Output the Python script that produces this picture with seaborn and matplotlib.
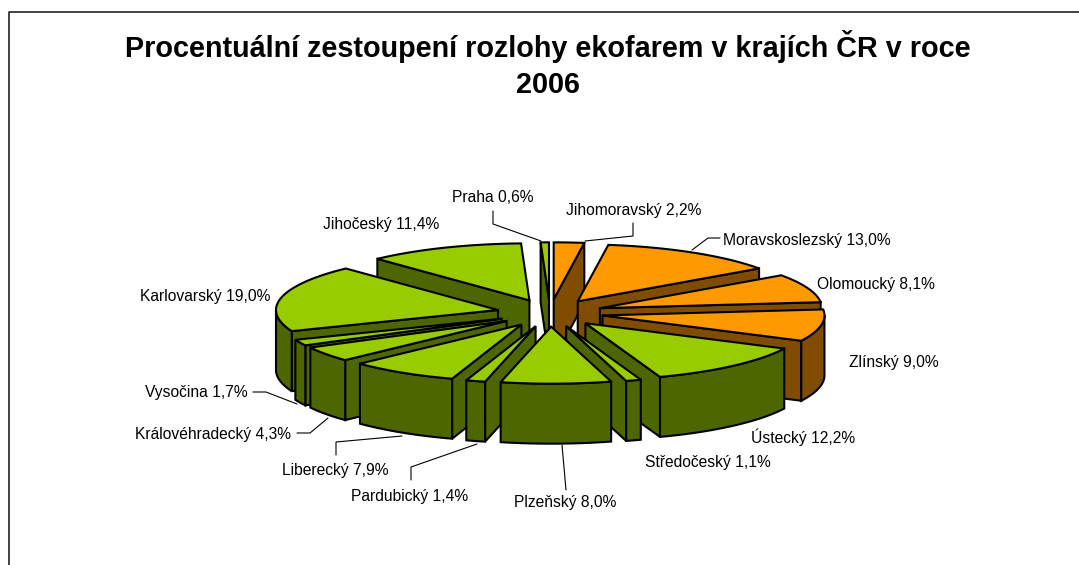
#!/usr/bin/python3

# Exploded 3D style pie, drawn on a pixel sized axes
import numpy as np
import pandas as pd
import seaborn as sns
import matplotlib.pyplot as plt
from matplotlib.patches import Polygon

# data, clockwise from the top
regions = ["Jihomoravský", "Moravskoslezský", "Olomoucký", "Zlínský", "Ústecký",
           "Středočeský", "Plzeňský", "Pardubický", "Liberecký", "Královéhradecký",
           "Vysočina", "Karlovarský", "Jihočeský", "Praha"]
shares = [2.2, 13.0, 8.1, 9.0, 12.2, 1.1, 8.0, 1.4, 7.9, 4.3, 1.7, 19.0, 11.4, 0.6]
groups = ["o", "o", "o", "o", "g", "g", "g", "g", "g", "g", "g", "g", "g", "g"]

title = "Procentuální zestoupení rozlohy ekofarem v krajích ČR v roce\n2006"

# label anchor (left edge, vertical middle) in pixels
label_x = [566, 723, 817, 849, 751, 645, 514, 351, 282, 135, 145, 140, 323, 452]
label_y = [211, 240, 284, 363, 437, 463, 502, 497, 470, 434, 393, 296, 225, 197]

# leader lines in pixels
leaders = [
    [(585, 241), (633, 236), (633, 223)],
    [(692, 250), (708, 238), (720, 238)],
    [(297, 404), (266, 392), (253, 392)],
    [(328, 418), (310, 433), (297, 433)],
    [(402, 436), (336, 442), (336, 455)],
    [(477, 444), (411, 467), (411, 480)],
    [(562, 445), (566, 490)],
    [(541, 241), (493, 224), (493, 211)],
]

# geometry of the fake 3D pie
cx, cy = 550, 313
rx, ry = 222, 57
explode = 0.24
depth = 60

colors = {"o": ("#FF9900", "#804D00"), "g": ("#99CC00", "#4D6600")}

df = pd.DataFrame({"region": regions, "share": shares, "group": groups})
df["end"] = df["share"].cumsum() / df["share"].sum() * 360
df["start"] = df["end"].shift(1, fill_value=0)
df["mid"] = (df["start"] + df["end"]) / 2
# back wedges first
df["order"] = df["mid"].apply(lambda a: min(a, 360 - a))

sns.set_theme(style="white")
plt.rcParams["font.family"] = ["Liberation Sans", "DejaVu Sans"]

fig, ax = plt.subplots(figsize=(10.79, 5.65), dpi=100)
ax.set_position([0, 0, 1, 1])
ax.set_xlim(0, 1079)
ax.set_ylim(565, 0)
ax.axis("off")

# frame, only left and top are inside the picture
ax.plot([9, 9, 1079], [565, 11.5, 11.5], color="#222222", lw=1.2, solid_capstyle="butt")


def point(ax0, ay0, deg):
    r = np.radians(deg)
    return (ax0 + rx * np.sin(r), ay0 - ry * np.cos(r))


def face(pts, color, z):
    ax.add_patch(Polygon(pts, closed=True, facecolor=color, edgecolor="black",
                         lw=1.5, joinstyle="miter", zorder=z))


z = 2
for _, row in df.sort_values("order").iterrows():
    top, side = colors[row["group"]]
    m = np.radians(row["mid"])
    ax0 = cx + explode * rx * np.sin(m)
    ay0 = cy - explode * ry * np.cos(m)
    a0, a1 = row["start"], row["end"]
    arc = [point(ax0, ay0, a) for a in np.linspace(a0, a1, 40)]

    # radial sides that face the viewer
    for a, show in ((a0, np.sin(np.radians(a0)) < 0), (a1, np.sin(np.radians(a1)) > 0)):
        if show:
            p = point(ax0, ay0, a)
            face([(ax0, ay0), p, (p[0], p[1] + depth), (ax0, ay0 + depth)], side, z)
            z += 1

    # outer wall, only the front part
    lo, hi = max(a0, 90), min(a1, 270)
    if hi > lo:
        wall = [point(ax0, ay0, a) for a in np.linspace(lo, hi, 40)]
        face(wall + [(x, y + depth) for x, y in wall[::-1]], side, z)
        z += 1

    face([(ax0, ay0)] + arc, top, z)
    z += 1

# leaders
for line in leaders:
    xs, ys = zip(*line)
    ax.plot(xs, ys, color="black", lw=0.8, zorder=1)

# labels
for name, val, x, y in zip(regions, shares, label_x, label_y):
    txt = f"{name} {val:.1f}%".replace(".", ",")
    ax.text(x, y, txt, fontsize=11.25, color="black", ha="left", va="center")

ax.text(548, 64.5, title, fontsize=20.7, fontweight="bold", color="black",
        ha="center", va="center", linespacing=1.37)

fig.savefig("out.png", dpi=100)
